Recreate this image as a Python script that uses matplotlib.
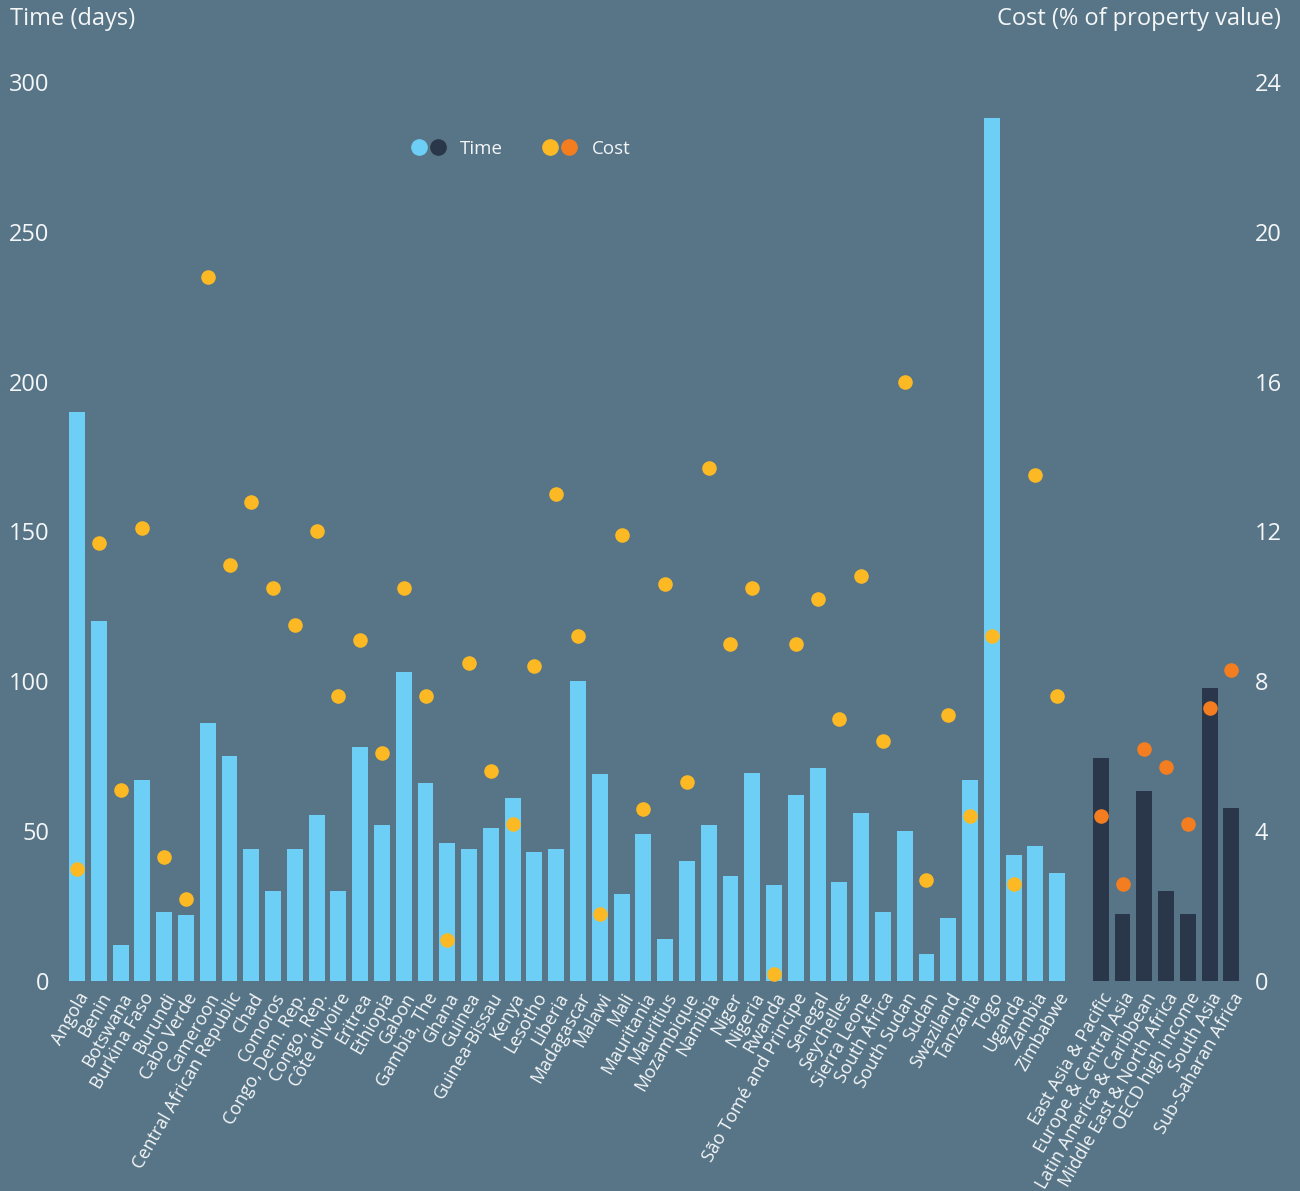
import numpy as np
import matplotlib.pyplot as plt
from matplotlib.lines import Line2D
from matplotlib.legend_handler import HandlerTuple

plt.rcParams['font.family'] = ['Open Sans', 'DejaVu Sans']

countries = ['Angola', 'Benin', 'Botswana', 'Burkina Faso', 'Burundi', 'Cabo Verde',
             'Cameroon', 'Central African Republic', 'Chad', 'Comoros',
             'Congo, Dem. Rep.', 'Congo, Rep.', "Côte d'Ivoire", 'Eritrea', 'Ethiopia',
             'Gabon', 'Gambia, The', 'Ghana', 'Guinea', 'Guinea-Bissau', 'Kenya',
             'Lesotho', 'Liberia', 'Madagascar', 'Malawi', 'Mali', 'Mauritania',
             'Mauritius', 'Mozambique', 'Namibia', 'Niger', 'Nigeria', 'Rwanda',
             'São Tomé and Principe', 'Senegal', 'Seychelles', 'Sierra Leone',
             'South Africa', 'South Sudan', 'Sudan', 'Swaziland', 'Tanzania', 'Togo',
             'Uganda', 'Zambia', 'Zimbabwe']
time_days = [190, 120, 12, 67, 23, 22, 86, 75, 44, 30, 44, 55.5, 30, 78, 52, 103, 66,
             46, 44, 51, 61, 43, 44, 100, 69, 29, 49, 14, 40, 52, 35, 69.5, 32, 62, 71,
             33, 56, 23, 50, 9, 21, 67, 288, 42, 45, 36]
cost_pct = [3.0, 11.7, 5.1, 12.1, 3.3, 2.2, 18.8, 11.1, 12.8, 10.5, 9.5, 12.0, 7.6,
            9.1, 6.1, 10.5, 7.6, 1.1, 8.5, 5.6, 4.2, 8.4, 13.0, 9.2, 1.8, 11.9, 4.6,
            10.6, 5.3, 13.7, 9.0, 10.5, 0.2, 9.0, 10.2, 7.0, 10.8, 6.4, 16.0, 2.7, 7.1,
            4.4, 9.2, 2.6, 13.5, 7.6]

regions = ['East Asia & Pacific', 'Europe & Central Asia', 'Latin America & Caribbean',
           'Middle East & North Africa', 'OECD high income', 'South Asia',
           'Sub-Saharan Africa']
region_time = [74.4, 22.3, 63.4, 30, 22.3, 97.8, 57.7]
region_cost = [4.4, 2.6, 6.2, 5.7, 4.2, 7.3, 8.3]

bg = '#577586'
txt = '#f4f6f8'
c_time, c_time_r = '#6dcff6', '#2a3649'
c_cost, c_cost_r = '#fdb924', '#f47d20'

x_c = np.arange(len(countries))
x_r = np.arange(len(regions)) + len(countries) + 1

fig = plt.figure(figsize=(13, 11.91), dpi=100, facecolor=bg)
ax = fig.add_axes([0.0467, 0.1763, 0.9131, 0.7549])
ax.set_facecolor(bg)

ax.bar(x_c, time_days, width=0.73, color=c_time)
ax.bar(x_r, region_time, width=0.73, color=c_time_r)
ax.set_ylim(0, 300)
ax.set_xlim(-0.75, 53.75)
ax.set_yticks(range(0, 301, 50))

ax2 = ax.twinx()
ax2.scatter(x_c, cost_pct, s=110, color=c_cost, zorder=3, clip_on=False, linewidths=0)
ax2.scatter(x_r, region_cost, s=110, color=c_cost_r, zorder=3, clip_on=False, linewidths=0)
ax2.set_ylim(0, 24)
ax2.set_yticks(range(0, 25, 4))

for a in (ax, ax2):
    for s in a.spines.values():
        s.set_visible(False)
    a.tick_params(length=0, colors=txt, labelsize=17)
ax.tick_params(axis='y', pad=8)
ax2.tick_params(axis='y', pad=5)

ax.set_xticks(list(x_c) + list(x_r))
ax.set_xticklabels(countries + regions, rotation=60, ha='right', rotation_mode='anchor',
                   fontsize=13, color=txt)
ax.tick_params(axis='x', pad=6)

fig.text(0.008, 0.984, 'Time (days)', color=txt, fontsize=17, va='center', ha='left')
fig.text(0.985, 0.984, 'Cost (% of property value)', color=txt, fontsize=17,
         va='center', ha='right')

h_time = (Line2D([], [], marker='o', ls='', color=c_time, markersize=11),
          Line2D([], [], marker='o', ls='', color=c_time_r, markersize=11))
h_cost = (Line2D([], [], marker='o', ls='', color=c_cost, markersize=11),
          Line2D([], [], marker='o', ls='', color=c_cost_r, markersize=11))
leg = ax.legend([h_time, h_cost], ['Time', 'Cost'], ncol=2, frameon=False,
                handler_map={tuple: HandlerTuple(ndivide=None, pad=0.1)},
                loc='center', bbox_to_anchor=(0.4, 0.875), bbox_transform=fig.transFigure,
                fontsize=13.5, labelcolor=txt, handlelength=2.0, columnspacing=2.0,
                handletextpad=0.7)

fig.savefig('out.png', dpi=100, facecolor=bg)
